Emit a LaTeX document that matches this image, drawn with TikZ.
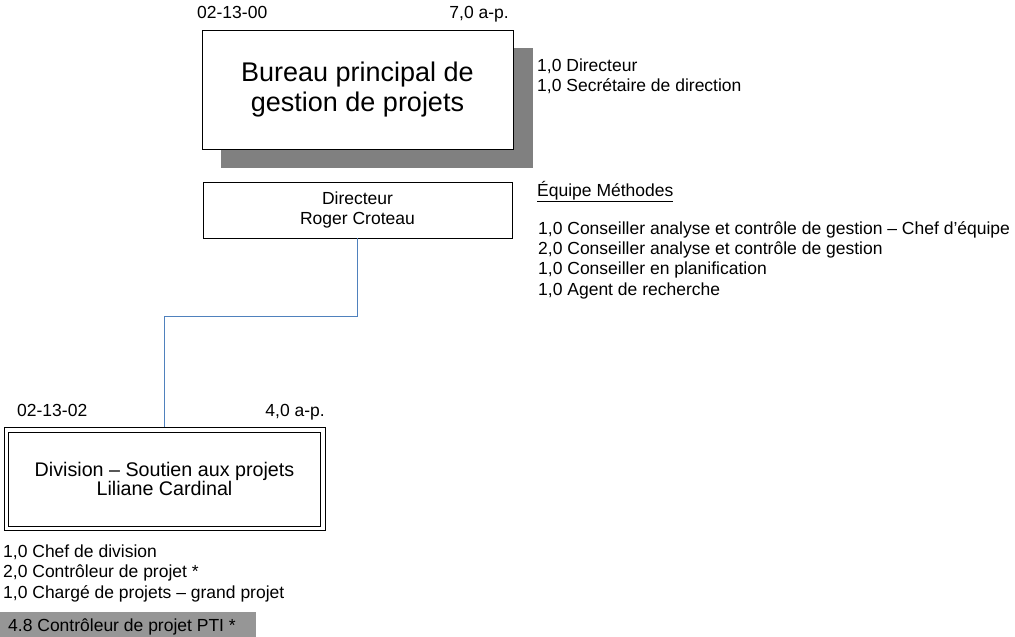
\documentclass[tikz,border=0pt]{standalone}
\usepackage{fontspec}
\setmainfont{Liberation Sans}
\definecolor{linkblue}{RGB}{79,129,189}
\definecolor{shadowgray}{RGB}{128,128,128}
\definecolor{bargray}{RGB}{150,150,150}
\tikzset{
  box/.style={draw=black, line width=0.9pt, fill=white, align=center, inner sep=0pt},
  lbl/.style={anchor=base west, inner sep=0pt, font=\fontsize{17.5}{20}\selectfont},
  lblr/.style={anchor=base east, inner sep=0pt, font=\fontsize{17.5}{20}\selectfont},
  link/.style={draw=linkblue, line width=1pt},
}
\begin{document}
\begin{tikzpicture}[x=1pt,y=-1pt]
\useasboundingbox (0,0) rectangle (1015,637);
% shadow
\fill[shadowgray] (221,48) rectangle (533,168);
% main box
\node[box, minimum width=311pt, minimum height=119pt, font=\fontsize{27}{30}\selectfont] (main) at (357.5,89.5) {Bureau principal de\\gestion de projets};
\node[lbl] (mcode) at (197,18) {02-13-00};
\node[lblr] (mfte) at (509,18) {7,0 a-p.};
\node[lbl] (m1) at (537,71) {1,0 Directeur};
\node[lbl] (m2) at (537,91) {1,0 Secrétaire de direction};
% director
\node[box, minimum width=309pt, minimum height=56pt, font=\fontsize{17.5}{20}\selectfont] (dir) at (357.5,210) {Directeur\\Roger Croteau};
% equipe
\node[lbl] (eq) at (537,196) {\underline{Équipe Méthodes}};
\node[lbl] (e1) at (538,234) {1,0 Conseiller analyse et contrôle de gestion – Chef d’équipe};
\node[lbl] (e2) at (538,254) {2,0 Conseiller analyse et contrôle de gestion};
\node[lbl] (e3) at (538,274) {1,0 Conseiller en planification};
\node[lbl] (e4) at (538,295) {1,0 Agent de recherche};
% division
\node[box, line width=0.8pt, minimum width=321pt, minimum height=103pt, font=\fontsize{19.7}{19.5}\selectfont] (div) at (164.5,479) {Division – Soutien aux projets\\Liliane Cardinal};
\draw[line width=0.8pt] ([shift={(5,5)}]div.north west) rectangle ([shift={(-5,-5)}]div.south east);
\node[lbl] (dcode) at (17,416) {02-13-02};
\node[lblr] (dfte) at (325,416) {4,0 a-p.};
\node[lbl] (d1) at (3,557) {1,0 Chef de division};
\node[lbl] (d2) at (3,577) {2,0 Contrôleur de projet *};
\node[lbl] (d3) at (3,598) {1,0 Chargé de projets – grand projet};
\fill[bargray] (0,612) rectangle (256,637);
\node[lbl] (d4) at (8,631) {4.8 Contrôleur de projet PTI *};
% connector
\draw[link] (dir.south) -- ++(0,78) -| (div.north);
\end{tikzpicture}
\end{document}
